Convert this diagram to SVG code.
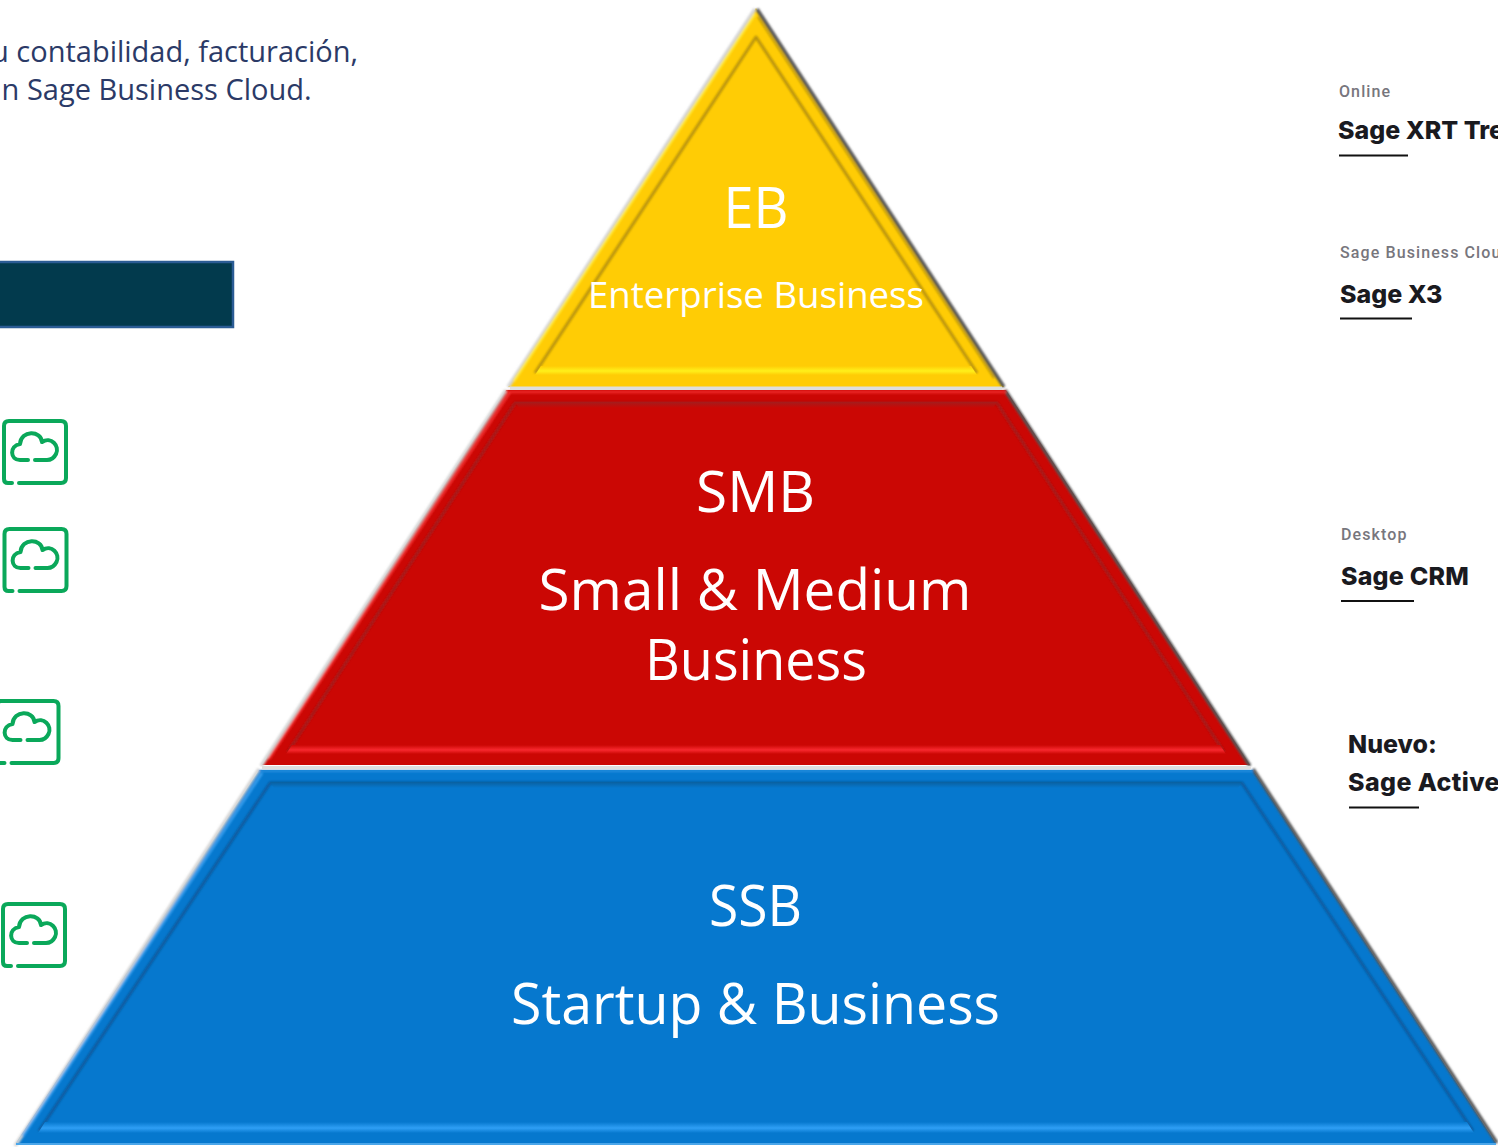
<svg xmlns="http://www.w3.org/2000/svg" width="1498" height="1147" viewBox="0 0 1498 1147">
<style>
.p{font-family:"Open Sans","Noto Sans",sans-serif;fill:#fff;text-anchor:middle}
.h{font-family:"Open Sans","Noto Sans",sans-serif;font-size:29px;fill:#2b3a67}
.s{font-family:Roboto,"Liberation Sans",sans-serif;font-size:16px;font-weight:500;fill:#77767d;letter-spacing:1.1px}
.b{font-family:Inter,"Liberation Sans",sans-serif;font-size:25px;font-weight:800;fill:#1a1a1f}
.u{stroke:#111;stroke-width:2.2;fill:none}
.lg{stroke:#d4d4d4;stroke-width:3.5;fill:none}
.dg{stroke:#555;stroke-width:3.5;fill:none}
.ic{fill:none;stroke:#0aa85a;stroke-width:4;stroke-linecap:round;stroke-linejoin:round}
.bev{fill:none;stroke-width:3;stroke-linejoin:round}
</style>
<defs>
<filter id="soft" x="-5%" y="-5%" width="110%" height="110%"><feGaussianBlur stdDeviation="0.8"/></filter>
<linearGradient id="by" x1="0" y1="0" x2="0" y2="1"><stop offset="0" stop-color="#ffcc05"/><stop offset=".55" stop-color="#fff01a"/><stop offset="1" stop-color="#ffcc05"/></linearGradient>
<linearGradient id="br" x1="0" y1="0" x2="0" y2="1"><stop offset="0" stop-color="#cb0704"/><stop offset=".55" stop-color="#f8282e"/><stop offset="1" stop-color="#cb0704"/></linearGradient>
<linearGradient id="bb" x1="0" y1="0" x2="0" y2="1"><stop offset="0" stop-color="#0678ce"/><stop offset=".55" stop-color="#2f9ff5"/><stop offset="1" stop-color="#0678ce"/></linearGradient>
<linearGradient id="tr" x1="0" y1="0" x2="0" y2="1"><stop offset="0" stop-color="#a31d1d"/><stop offset="1" stop-color="#cb0704"/></linearGradient>
<linearGradient id="tb" x1="0" y1="0" x2="0" y2="1"><stop offset="0" stop-color="#0a609f"/><stop offset="1" stop-color="#0678ce"/></linearGradient>
<g id="cloud">
<path class="ic" d="M8 62H4Q0 62 0 58V5Q0 0 5 0H57Q62 0 62 5V57Q62 62 57 62H15"/>
<path class="ic" d="M24 39H16C6 39 5 25 16 23C17 9 37 9 38 21C47 15 56 25 52 33C50 37 47 39 43 39H31"/>
</g>
</defs>
<g id="header">
<text class="h" x="-9" y="62">u contabilidad, facturación,</text>
<text class="h" x="1.600" y="100">n Sage Business Cloud.</text>
</g>
<g id="bar"><rect x="-3" y="262" width="236" height="65" fill="#023a4d" stroke="#2b5c95" stroke-width="2.5"/></g>
<g id="icon1"><use href="#cloud" x="4" y="421"/></g>
<g id="icon2"><use href="#cloud" x="4.500" y="529"/></g>
<g id="icon3"><use href="#cloud" x="-3.500" y="701"/></g>
<g id="icon4"><use href="#cloud" x="3" y="904"/></g>
<g id="tier-eb">
<polygon points="756,8 1004,387 508,387" fill="#ffcc05"/>
<g filter="url(#soft)">
<path class="lg" d="M508 387 755 9"/><path class="dg" d="M757 9 1004 387"/>
<path d="M514 381 755 14" stroke="#ffe93a" stroke-width="2.500" fill="none"/>
<path d="M758 17 994 378" stroke="#b08f10" stroke-width="1.500" fill="none"/>
<path class="bev" d="M535 373 756 37 977 373" stroke="#b8930c"/>
</g>
<polygon points="535,375 977,375 971,366 541,366" fill="url(#by)"/>
<text class="p" x="756" y="228" font-size="57" textLength="65" lengthAdjust="spacingAndGlyphs">EB</text>
<text class="p" x="756" y="308" font-size="37" textLength="336" lengthAdjust="spacingAndGlyphs">Enterprise Business</text>
</g>
<g id="tier-smb">
<polygon points="506,390 1006,390 1250,765 262,765" fill="#cb0704"/>
<g filter="url(#soft)">
<path class="lg" d="M506 390 261 766"/><path class="dg" d="M1005 390 1250 766"/>
<path d="M506 392H1006" stroke="#ef2a2a" stroke-width="2.500"/>
<path d="M269 759 510 392" stroke="#f23030" stroke-width="2.500" fill="none"/>
<path class="bev" d="M288 752 515 403 997 403 1224 752" stroke="#a31d1d"/>
</g>
<polygon points="515,402 997,402 993,408 519,408" fill="url(#tr)"/>
<polygon points="286,754 1226,754 1220,745 292,745" fill="url(#br)"/>
<text class="p" x="755.500" y="512" font-size="57" textLength="119" lengthAdjust="spacingAndGlyphs">SMB</text>
<text class="p" x="755" y="610" font-size="57" textLength="433" lengthAdjust="spacingAndGlyphs">Small &amp; Medium</text>
<text class="p" x="756" y="680" font-size="57" textLength="222" lengthAdjust="spacingAndGlyphs">Business</text>
</g>
<g id="tier-ssb">
<polygon points="259,770 1253,770 1496,1143 16,1143" fill="#0678ce"/>
<g filter="url(#soft)">
<path class="lg" d="M259 769 15 1146"/><path class="dg" d="M1253 769 1497 1143"/>
<path d="M259 771H1253" stroke="#2a8fe0" stroke-width="2"/>
<path d="M23 1136 262 773" stroke="#3aa0ef" stroke-width="2.500" fill="none"/>
<path class="bev" d="M39 1131 270 783 1242 783 1473 1131" stroke="#0a5a9e"/>
</g>
<polygon points="270,782 1242,782 1238,788 274,788" fill="url(#tb)"/>
<polygon points="38,1133 1474,1133 1467,1122 45,1122" fill="url(#bb)"/>
<rect x="262" y="766" width="989" height="3.500" fill="#dedede"/>
<rect x="510" y="386.500" width="492" height="3.500" fill="#dedede"/>
<rect x="16" y="1143" width="1480" height="2" fill="#4aa6ea"/>
<text class="p" x="755.500" y="926" font-size="57" textLength="93" lengthAdjust="spacingAndGlyphs">SSB</text>
<text class="p" x="755.500" y="1024" font-size="57" textLength="489" lengthAdjust="spacingAndGlyphs">Startup &amp; Business</text>
</g>
<g id="product-xrt">
<text class="s" x="1339" y="97">Online</text>
<text class="b" x="1338" y="139">Sage XRT Tre</text>
<path class="u" d="M1339 155.500H1408"/>
</g>
<g id="product-x3">
<text class="s" x="1340" y="258">Sage Business Clou</text>
<text class="b" x="1340" y="303">Sage X3</text>
<path class="u" d="M1340 318.500H1412"/>
</g>
<g id="product-crm">
<text class="s" x="1341" y="540">Desktop</text>
<text class="b" x="1341" y="585" letter-spacing=".2">Sage CRM</text>
<path class="u" d="M1341 601H1414"/>
</g>
<g id="product-active">
<text class="b" x="1348" y="753">Nuevo:</text>
<text class="b" x="1348" y="791" letter-spacing=".4">Sage Active</text>
<path class="u" d="M1349 807.500H1419"/>
</g>
</svg>
